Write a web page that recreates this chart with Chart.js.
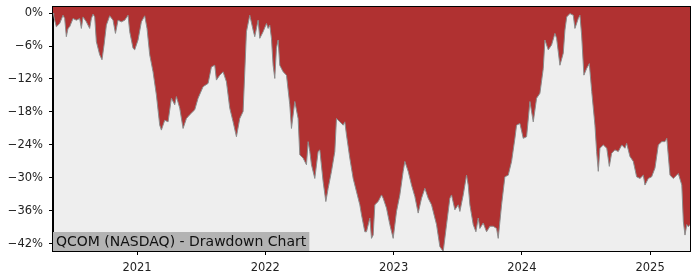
<!DOCTYPE html>
<html lang="en">
<head>
    <meta charset="UTF-8">
    <title>QCOM Drawdown Chart</title>
    <script src="https://cdn.jsdelivr.net/npm/chart.js"></script>
    <style>
        html, body { margin: 0; padding: 0; background: #ffffff; }
        .chart-container { width: 700px; height: 280px; }
    </style>
</head>
<body>
    <div class="chart-container">
        <canvas id="ddChart"></canvas>
    </div>

    <script>
        // dates as decimal years, drawdown in percent
        const dates = [
            2020.345, 2020.350, 2020.358, 2020.371, 2020.397, 2020.423, 2020.436, 2020.449, 2020.462, 2020.475,
            2020.501, 2020.527, 2020.553, 2020.566, 2020.579, 2020.605, 2020.631, 2020.644, 2020.657, 2020.670,
            2020.683, 2020.709, 2020.727, 2020.743, 2020.761, 2020.787, 2020.813, 2020.832, 2020.852, 2020.878,
            2020.904, 2020.930, 2020.943, 2020.969, 2020.982, 2021.008, 2021.034, 2021.060, 2021.078, 2021.099,
            2021.125, 2021.151, 2021.177, 2021.190, 2021.216, 2021.242, 2021.268, 2021.294, 2021.307, 2021.333,
            2021.359, 2021.385, 2021.411, 2021.450, 2021.476, 2021.515, 2021.554, 2021.580, 2021.606, 2021.619,
            2021.645, 2021.671, 2021.697, 2021.723, 2021.749, 2021.775, 2021.801, 2021.827, 2021.840, 2021.853,
            2021.879, 2021.905, 2021.918, 2021.944, 2021.957, 2021.983, 2022.009, 2022.022, 2022.035, 2022.048,
            2022.061, 2022.074, 2022.087, 2022.100, 2022.113, 2022.139, 2022.165, 2022.191, 2022.204, 2022.230,
            2022.256, 2022.269, 2022.295, 2022.321, 2022.334, 2022.347, 2022.360, 2022.386, 2022.412, 2022.425,
            2022.451, 2022.472, 2022.490, 2022.516, 2022.542, 2022.555, 2022.581, 2022.607, 2022.620, 2022.633,
            2022.659, 2022.685, 2022.711, 2022.737, 2022.750, 2022.776, 2022.789, 2022.815, 2022.828, 2022.841,
            2022.854, 2022.880, 2022.906, 2022.919, 2022.945, 2022.971, 2022.997, 2023.023, 2023.049, 2023.075,
            2023.088, 2023.114, 2023.140, 2023.166, 2023.192, 2023.218, 2023.244, 2023.270, 2023.296, 2023.322,
            2023.335, 2023.361, 2023.387, 2023.413, 2023.439, 2023.452, 2023.478, 2023.504, 2023.517, 2023.543,
            2023.569, 2023.582, 2023.595, 2023.621, 2023.642, 2023.660, 2023.673, 2023.699, 2023.725, 2023.751,
            2023.777, 2023.803, 2023.816, 2023.842, 2023.868, 2023.894, 2023.920, 2023.946, 2023.959, 2023.985,
            2024.011, 2024.037, 2024.063, 2024.089, 2024.115, 2024.141, 2024.167, 2024.180, 2024.206, 2024.232,
            2024.258, 2024.271, 2024.297, 2024.323, 2024.336, 2024.350, 2024.375, 2024.401, 2024.414, 2024.440,
            2024.453, 2024.466, 2024.484, 2024.505, 2024.526, 2024.545, 2024.570, 2024.583, 2024.596, 2024.609,
            2024.635, 2024.662, 2024.682, 2024.700, 2024.726, 2024.752, 2024.779, 2024.804, 2024.817, 2024.843,
            2024.869, 2024.895, 2024.921, 2024.947, 2024.960, 2024.986, 2025.012, 2025.038, 2025.064, 2025.091,
            2025.116, 2025.130, 2025.155, 2025.181, 2025.207, 2025.220, 2025.247, 2025.259, 2025.272, 2025.286,
            2025.298, 2025.311
        ];
        const drawdown = [
            0.0, -0.4, -1.3, -2.5, -1.9, -0.4, -1.0, -4.3, -2.8, -2.5,
            -1.0, -1.3, -1.0, -2.8, -0.7, -1.6, -2.8, -1.0, -0.2, -0.7,
            -5.2, -7.6, -8.5, -5.8, -2.2, -0.5, -1.3, -3.7, -1.3, -1.6,
            -1.3, -0.4, -3.4, -6.4, -6.7, -4.9, -1.6, -0.5, -2.8, -7.6,
            -10.7, -14.9, -20.4, -21.3, -19.5, -19.8, -15.5, -16.7, -15.2, -17.3,
            -21.0, -19.2, -18.5, -17.6, -15.5, -13.4, -12.8, -9.8, -9.5, -12.2,
            -11.3, -10.7, -12.5, -17.3, -19.8, -22.5, -19.2, -17.9, -10.7, -3.4,
            -0.4, -3.1, -4.3, -1.3, -4.6, -3.4, -1.9, -2.8, -2.2, -4.6,
            -9.5, -11.9, -6.4, -4.9, -9.5, -10.7, -11.3, -16.7, -21.0, -16.1,
            -19.2, -25.8, -26.4, -27.6, -23.4, -25.2, -27.6, -30.1, -25.2, -24.9,
            -30.7, -34.3, -31.9, -28.8, -25.2, -19.2, -19.8, -20.4, -19.8, -22.2,
            -26.4, -30.1, -32.5, -34.9, -36.7, -39.8, -39.8, -37.3, -41.0, -40.4,
            -34.9, -34.3, -33.1, -33.7, -35.5, -38.5, -41.0, -36.1, -33.1, -28.8,
            -27.0, -28.8, -31.3, -33.4, -36.4, -33.7, -31.9, -33.7, -34.9, -37.3,
            -38.5, -42.5, -43.4, -38.5, -33.7, -33.1, -35.8, -34.9, -36.1, -33.1,
            -29.5, -31.3, -34.9, -38.5, -39.8, -37.3, -39.2, -38.2, -39.8, -38.8,
            -38.8, -39.2, -41.0, -34.9, -29.8, -29.5, -27.0, -22.8, -20.4, -20.1,
            -22.8, -22.5, -16.1, -19.8, -15.5, -14.6, -10.1, -4.9, -6.7, -5.8,
            -3.7, -4.6, -9.5, -7.3, -3.1, -0.7, -0.1, -0.4, -2.8, -1.0,
            -0.4, -4.0, -11.3, -10.1, -9.2, -14.3, -20.4, -25.2, -28.8, -24.6,
            -24.0, -24.6, -27.9, -25.5, -24.9, -25.2, -24.0, -24.6, -23.7, -26.1,
            -27.0, -29.8, -30.1, -29.5, -31.3, -30.1, -29.8, -28.2, -24.0, -23.4,
            -23.4, -22.8, -29.5, -30.1, -29.5, -29.2, -31.3, -37.9, -40.4, -38.5,
            -38.9, -38.5
        ];
        const yearTicks = [2021, 2022, 2023, 2024, 2025];
        const pctTicks = [0, -6, -12, -18, -24, -30, -36, -42];
        const chartLabel = "QCOM (NASDAQ) - Drawdown Chart";

        const points = dates.map((d, i) => ({ x: d, y: drawdown[i] }));

        // grey plot background, frame and the label box in the corner
        const plotDecor = {
            id: "plotDecor",
            beforeDraw(chart) {
                const a = chart.chartArea;
                const ctx = chart.ctx;
                ctx.save();
                ctx.fillStyle = "#eeeeee";
                ctx.fillRect(a.left, a.top, a.right - a.left, a.bottom - a.top);
                ctx.restore();
            },
            afterDraw(chart) {
                const a = chart.chartArea;
                const ctx = chart.ctx;
                ctx.save();
                ctx.font = "14px 'DejaVu Sans'";
                const w = ctx.measureText(chartLabel).width;
                ctx.fillStyle = "#b3b3b3";
                ctx.fillRect(a.left, a.bottom - 19, w + 6, 19);
                ctx.fillStyle = "#111111";
                ctx.textBaseline = "middle";
                ctx.fillText(chartLabel, a.left + 3, a.bottom - 9);
                ctx.strokeStyle = "#000000";
                ctx.lineWidth = 1;
                ctx.strokeRect(a.left - 0.5, a.top - 0.5, a.right - a.left + 1, a.bottom - a.top + 1);
                ctx.restore();
            }
        };

        const ctx = document.getElementById("ddChart").getContext("2d");
        new Chart(ctx, {
            type: "line",
            data: {
                datasets: [{
                    data: points,
                    borderColor: "#8c8c8c",
                    borderWidth: 1,
                    backgroundColor: "#b03131",
                    fill: "end",
                    pointRadius: 0,
                    tension: 0
                }]
            },
            options: {
                responsive: true,
                maintainAspectRatio: false,
                animation: false,
                layout: { padding: { top: 7, right: 10, left: 0, bottom: 0 } },
                plugins: {
                    legend: { display: false },
                    tooltip: { enabled: false }
                },
                scales: {
                    x: {
                        type: "linear",
                        min: 2020.345,
                        max: 2025.311,
                        afterFit: (scale) => {
                            scale.height = 29;
                            scale.paddingLeft = 0;
                            scale.paddingRight = 0;
                        },
                        afterBuildTicks: (scale) => { scale.ticks = yearTicks.map(v => ({ value: v })); },
                        grid: { drawOnChartArea: false, tickLength: 4, color: "#000000", tickWidth: 1 },
                        border: { display: true, color: "#000000", width: 1 },
                        ticks: {
                            color: "#222222",
                            padding: 6,
                            maxRotation: 0,
                            font: { family: "'DejaVu Sans'", size: 11.5 },
                            callback: (v) => String(v)
                        }
                    },
                    y: {
                        min: -43.3,
                        max: 1.1,
                        afterFit: (scale) => {
                            scale.width = 53;
                            scale.paddingTop = 0;
                            scale.paddingBottom = 0;
                        },
                        afterBuildTicks: (scale) => { scale.ticks = pctTicks.map(v => ({ value: v })); },
                        grid: { drawOnChartArea: false, tickLength: 4, color: "#000000", tickWidth: 1 },
                        border: { display: true, color: "#000000", width: 1 },
                        ticks: {
                            color: "#222222",
                            padding: 6,
                            font: { family: "'DejaVu Sans'", size: 11.5 },
                            callback: (v) => v === 0 ? "0%" : "\u2212" + Math.abs(v) + "%"
                        }
                    }
                }
            },
            plugins: [plotDecor]
        });
    </script>
</body>
</html>
